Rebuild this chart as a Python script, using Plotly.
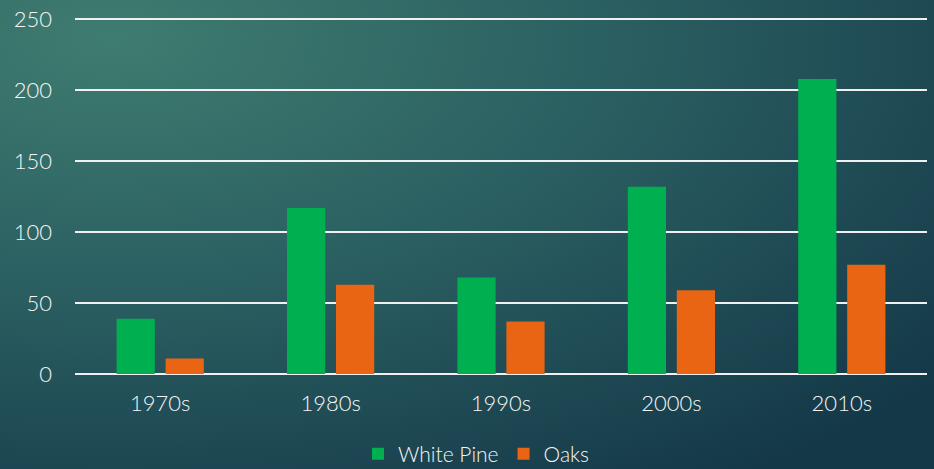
import base64
import plotly.graph_objects as go

categories = ["1970s", "1980s", "1990s", "2000s", "2010s"]
white_pine = [39, 117, 68, 132, 208]
oaks = [11, 63, 37, 59, 77]
y_ticks = [0, 50, 100, 150, 200, 250]

W, H = 934, 469
ML, MR, MT, MB = 75, 7, 18, 95
PW, PH = W - ML - MR, H - MT - MB

svg = f'''<svg xmlns="http://www.w3.org/2000/svg" width="{W}" height="{H}" viewBox="0 0 {W} {H}" preserveAspectRatio="none">
<defs><radialGradient id="g" cx="0.12" cy="0.08" r="1.15" gradientUnits="objectBoundingBox">
<stop offset="0" stop-color="#3f7c70"/>
<stop offset="0.45" stop-color="#2b6062"/>
<stop offset="1" stop-color="#143848"/>
</radialGradient></defs>
<rect width="{W}" height="{H}" fill="url(#g)"/></svg>'''
src = "data:image/svg+xml;base64," + base64.b64encode(svg.encode()).decode()

font = "Lato, 'Open Sans', sans-serif"
txt = "#f5f5f5"

fig = go.Figure()
fig.add_trace(go.Bar(x=categories, y=white_pine, name="White Pine",
                     marker=dict(color="#00b050", line=dict(width=0))))
fig.add_trace(go.Bar(x=categories, y=oaks, name="Oaks",
                     marker=dict(color="#e96513", line=dict(width=0))))

fig.update_layout(
    width=W, height=H,
    margin=dict(l=ML, r=MR, t=MT, b=MB, autoexpand=False),
    paper_bgcolor="#1f4f56",
    plot_bgcolor="rgba(0,0,0,0)",
    barmode="group",
    bargap=0.425,
    bargroupgap=0.22,
    font=dict(family=font, color=txt, size=22, weight=300),
    showlegend=True,
    legend=dict(orientation="h", x=476 / W, xanchor="center", xref="container",
                y=1 - 454 / H, yanchor="middle", yref="container",
                font=dict(family=font, size=21, color=txt, weight=300),
                bgcolor="rgba(0,0,0,0)", itemwidth=30),
    images=[dict(source=src, xref="paper", yref="paper",
                 x=-ML / PW, y=1 + MT / PH, sizex=W / PW, sizey=H / PH,
                 xanchor="left", yanchor="top", sizing="stretch",
                 layer="below", opacity=1)],
)
fig.update_xaxes(showgrid=False, showline=False, ticks="",
                 tickfont=dict(family=font, size=22, color=txt, weight=300),
                 ticklabelstandoff=14)
fig.update_yaxes(range=[0, 251], tickvals=y_ticks, showgrid=True,
                 gridcolor="#f0f0f0", gridwidth=2, zeroline=True,
                 zerolinecolor="#f0f0f0", zerolinewidth=2, showline=False,
                 ticks="", tickfont=dict(family=font, size=22, color=txt, weight=300),
                 ticklabelstandoff=22)

fig.write_html("out.html", config={"displayModeBar": False},
               post_script="document.body.style.margin='0';document.body.style.padding='0';")
